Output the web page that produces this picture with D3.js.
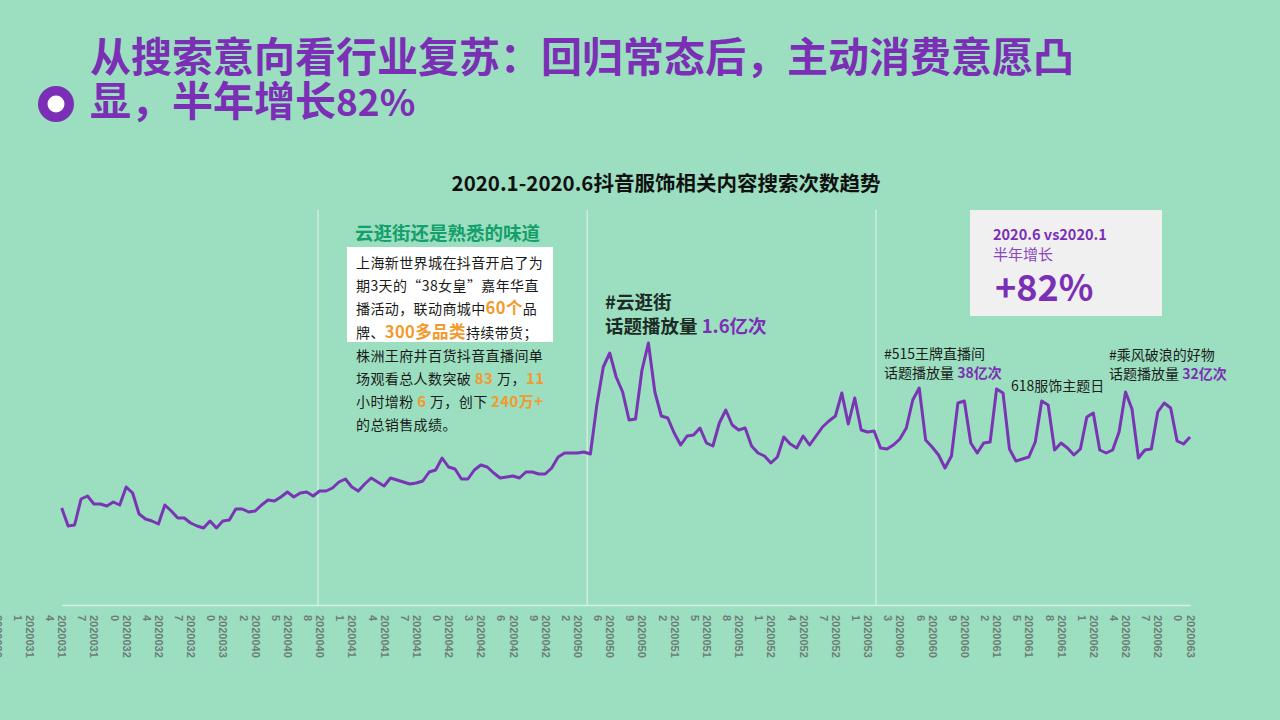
<!DOCTYPE html>
<html>
<head>
<meta charset="utf-8">
<script src="https://cdn.jsdelivr.net/npm/d3@7"></script>
<style>
  html, body { margin: 0; padding: 0; background: #9bdec0; }
  svg { display: block; font-family: "Noto Sans CJK SC", "Noto Sans", sans-serif; }
</style>
</head>
<body>
<div id="chart"></div>
<script>
// Daily search count index (Douyin apparel related content)
var searchIndex = [
  97, 79, 80, 106, 109, 101, 101, 99, 103, 100,
  118, 112, 91, 86, 84, 81, 100, 94, 87, 87,
  82, 79, 77, 84, 77, 84, 85, 96, 96, 93,
  94, 100, 105, 104, 108, 113, 108, 112, 113, 109,
  114, 114, 117, 123, 126, 118, 114, 121, 127, 123,
  119, 127, 125, 123, 121, 122, 124, 133, 135, 147,
  138, 136, 126, 126, 135, 140, 138, 132, 127, 128,
  129, 127, 133, 133, 131, 131, 137, 148, 152, 152,
  152, 153, 151, 200, 238, 252, 228, 213, 185, 186,
  235, 262, 213, 189, 187, 172, 160, 169, 170, 177,
  162, 159, 182, 195, 180, 175, 177, 159, 152, 149,
  142, 148, 168, 161, 157, 169, 160, 169, 178, 184,
  189, 212, 181, 207, 175, 173, 174, 157, 156, 160,
  166, 177, 205, 217, 165, 158, 150, 137, 149, 202,
  204, 162, 152, 162, 163, 216, 212, 156, 144, 146,
  148, 163, 204, 200, 155, 162, 157, 150, 156, 188,
  192, 155, 152, 155, 173, 213, 196, 147, 155, 156,
  193, 202, 197, 164, 161, 168
];

// category labels shown on the axis (one every 5 points)
var tickLabels = [
  "20200308", "20200311", "20200314", "20200317", "20200320", "20200324", "20200327", "20200330",
  "20200402", "20200405", "20200408", "20200411", "20200414", "20200417", "20200420", "20200423",
  "20200426", "20200429", "20200502", "20200506", "20200509", "20200512", "20200515", "20200518",
  "20200521", "20200524", "20200527", "20200531", "20200603", "20200606", "20200609", "20200612",
  "20200615", "20200618", "20200621", "20200624", "20200627", "20200630"
];
var tickEvery = 5;
var firstTickAt = -10;

// thin dividers between the annotated phases (in point index units)
var sectionBreaks = [39.75, 81.5, 126.3];

var width = 1280, height = 720;
var purple = '#7b2fb5';
var orange = '#f29a2e';

var svg = d3.select('#chart').append('svg')
  .attr('width', width)
  .attr('height', height);

svg.append('rect')
  .attr('width', width)
  .attr('height', height)
  .attr('fill', '#9bdec0');

// Slide heading
svg.append('circle').attr('cx', 56).attr('cy', 104).attr('r', 18).attr('fill', purple);
svg.append('circle').attr('cx', 56).attr('cy', 104).attr('r', 8.5).attr('fill', '#ffffff');

var heading = svg.append('text')
  .attr('font-size', 41)
  .attr('font-weight', 'bold')
  .attr('fill', purple);
heading.append('tspan').attr('x', 90).attr('y', 72).text('从搜索意向看行业复苏：回归常态后，主动消费意愿凸');
heading.append('tspan').attr('x', 90).attr('y', 116).text('显，半年增长');
heading.append('tspan').attr('font-size', 37).text('82%');

// Chart title
svg.append('text')
  .attr('x', 666)
  .attr('y', 191)
  .attr('text-anchor', 'middle')
  .attr('font-size', 20.5)
  .attr('font-weight', 'bold')
  .attr('fill', '#111')
  .text('2020.1-2020.6抖音服饰相关内容搜索次数趋势');

// Scales
var x = d3.scaleLinear().domain([0, searchIndex.length - 1]).range([61.7, 1190]);
var y = d3.scaleLinear().domain([0, 300]).range([605, 305]);

// Phase dividers
svg.selectAll('line.divider')
  .data(sectionBreaks)
  .enter().append('line')
  .attr('class', 'divider')
  .attr('x1', function(d) { return x(d); })
  .attr('x2', function(d) { return x(d); })
  .attr('y1', 210)
  .attr('y2', y(0))
  .attr('stroke', 'rgba(255,255,255,0.75)')
  .attr('stroke-width', 1);

// X axis with rotated, wrapped date labels
var tickIdx = tickLabels.map(function(d, i) { return firstTickAt + i * tickEvery; });
var xAxis = d3.axisBottom(x)
  .tickValues(tickIdx)
  .tickSize(0)
  .tickFormat(function(d, i) { return tickLabels[i]; });

var gx = svg.append('g')
  .attr('transform', 'translate(0,' + y(0) + ')')
  .call(xAxis);

gx.select('.domain')
  .attr('stroke', 'rgba(255,255,255,0.55)')
  .attr('stroke-width', 1.5);

gx.selectAll('.tick text').each(function(d, i) {
  var s = tickLabels[i];
  var t = d3.select(this);
  t.text(null)
    .attr('transform', 'rotate(90)')
    .attr('y', 0)
    .attr('dy', null)
    .attr('text-anchor', 'start')
    .attr('fill', '#6f7d77')
    .attr('font-size', 11)
    .attr('font-weight', 'bold')
    .attr('font-family', '"Liberation Sans", Arial, sans-serif');
  t.append('tspan').attr('x', 10).attr('dy', '0.36em').text(s.slice(0, 7));
  t.append('tspan').attr('x', 10).attr('dy', '1.1em').text(s.slice(7));
});

// Trend line
var line = d3.line()
  .x(function(d, i) { return x(i); })
  .y(function(d) { return y(d); });

svg.append('path')
  .datum(searchIndex)
  .attr('d', line)
  .attr('fill', 'none')
  .attr('stroke', '#7a35b5')
  .attr('stroke-width', 3)
  .attr('stroke-linejoin', 'round');

// helper: one line of text made of styled runs
function richLine(g, px, py, runs, base) {
  var t = g.append('text').attr('x', px).attr('y', py)
    .attr('font-size', base.size)
    .attr('fill', base.fill)
    .attr('font-weight', base.weight || 'normal')
    .attr('letter-spacing', base.spacing || 0);
  runs.forEach(function(r) {
    var s = t.append('tspan').text(r[0]);
    if (r[1]) {
      s.attr('fill', r[1].fill || null)
        .attr('font-size', r[1].size || null)
        .attr('font-weight', r[1].weight || null);
    }
  });
  return t;
}

// Annotation: 云逛街
var note1 = svg.append('g');
note1.append('text')
  .attr('x', 355).attr('y', 240)
  .attr('font-size', 18.5)
  .attr('font-weight', 'bold')
  .attr('fill', '#13a06c')
  .text('云逛街还是熟悉的味道');
note1.append('rect')
  .attr('x', 347).attr('y', 247)
  .attr('width', 206).attr('height', 95)
  .attr('fill', '#ffffff');

var hl = { fill: orange, size: 16.5, weight: 'bold' };
var hs = { fill: orange, size: 15, weight: 'bold' };
var bodyLines = [
  [['上海新世界城在抖音开启了为']],
  [['期3天的“38女皇”嘉年华直']],
  [['播活动，联动商城中'], ['60个', hl], ['品']],
  [['牌、'], ['300多品类', hl], ['持续带货；']],
  [['株洲王府井百货抖音直播间单']],
  [['场观看总人数突破 '], [' 83 ', hs], [' 万，'], ['11', hs]],
  [['小时增粉 '], ['6', hs], [' 万，创下 '], ['240万+', hs]],
  [['的总销售成绩。']]
];
bodyLines.forEach(function(runs, i) {
  richLine(note1, 356, 268 + i * 23.2, runs, { size: 14, fill: '#1a1a1a', spacing: 0.4 });
});

// Annotation: #云逛街 topic
var big = { size: 18.5, fill: '#1c2b25', weight: 'bold' };
richLine(svg, 605, 309, [['#云逛街']], big);
richLine(svg, 605, 333, [['话题播放量 '], ['1.6亿次', { fill: purple }]], big);

// Annotations on the June peaks
var small = { size: 14, fill: '#1c1c1c' };
richLine(svg, 884, 359, [['#515王牌直播间']], small);
richLine(svg, 884, 378, [['话题播放量 '], ['38亿次', { fill: purple, weight: 'bold' }]], small);
richLine(svg, 1011, 391, [['618服饰主题日']], small);
richLine(svg, 1109, 360, [['#乘风破浪的好物']], small);
richLine(svg, 1109, 379, [['话题播放量 '], ['32亿次', { fill: purple, weight: 'bold' }]], small);

// Summary card
var card = svg.append('g');
card.append('rect')
  .attr('x', 970).attr('y', 210)
  .attr('width', 192).attr('height', 106)
  .attr('fill', '#f0f0f0');
card.append('text')
  .attr('x', 993).attr('y', 240)
  .attr('font-size', 14.5)
  .attr('font-weight', 'bold')
  .attr('fill', purple)
  .text('2020.6 vs2020.1');
card.append('text')
  .attr('x', 993).attr('y', 260)
  .attr('font-size', 15)
  .attr('fill', '#8a45c0')
  .text('半年增长');
card.append('text')
  .attr('x', 995).attr('y', 301)
  .attr('font-size', 36)
  .attr('font-weight', 'bold')
  .attr('fill', purple)
  .text('+82%');
</script>
</body>
</html>
